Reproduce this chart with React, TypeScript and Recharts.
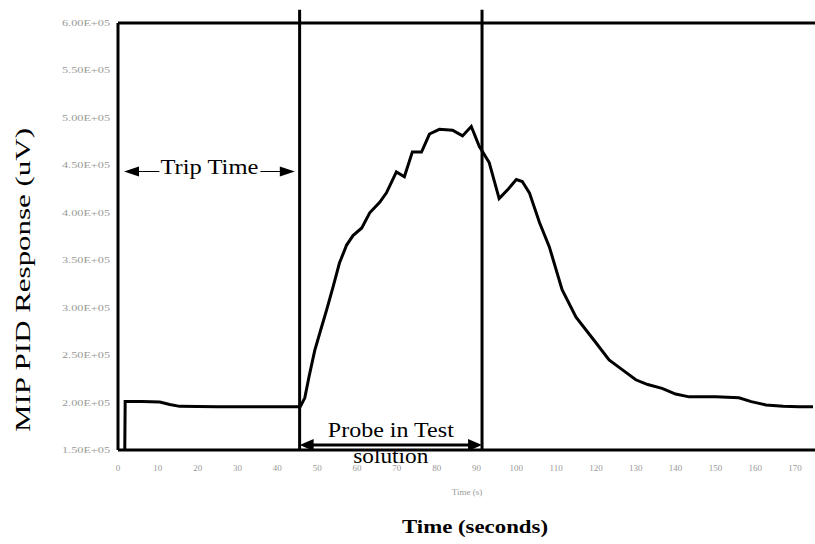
import React from "react"
import { LineChart, Line, XAxis, YAxis, ReferenceLine } from "recharts"

// time (s) and MIP PID response (uV)
const times = [
  1.7, 1.8, 6, 10.5, 13, 15.5, 20, 25, 30, 35, 40, 45.2, 45.8, 46.9, 48, 49.4,
  51, 52.4, 54, 55.6, 57.4, 59, 61.2, 63.2, 65.7, 67.4, 69.9, 71.9, 73.9, 76.2,
  78.2, 80.7, 84, 86.5, 88.7, 90.7, 93.2, 95.7, 98, 100, 101.5, 103.3, 105.8,
  108.3, 111.5, 115, 120, 123.3, 126.5, 130, 133, 136.6, 140, 143.4, 147, 150.1,
  155.9, 159, 162.7, 167, 171, 174.5,
]
const responses = [
  150000, 201000, 201000, 200500, 198000, 196000, 195800, 195500, 195600, 195500,
  195500, 195500, 196000, 205000, 228000, 255000, 278000, 298000, 322000, 347000,
  366000, 376000, 384000, 400000, 411000, 421000, 443000, 438000, 464000, 464000,
  483000, 488000, 487000, 481000, 491000, 470000, 453000, 415000, 425000, 435000,
  433000, 421000, 390000, 364000, 319000, 290000, 263000, 245000, 235000, 224000,
  219000, 215000, 209000, 206000, 206000, 206000, 205000, 201000, 197500, 196000,
  195500, 195500,
]
const yTicks = [150000, 200000, 250000, 300000, 350000, 400000, 450000, 500000, 550000, 600000]
const xTicks = [0, 10, 20, 30, 40, 50, 60, 70, 80, 90, 100, 110, 120, 130, 140, 150, 160, 170]

// markers: probe put in / pulled out
const probeIn = 45.6
const probeOut = 91.4

const data = times.map((t, i) => ({ t, v: responses[i] }))

const serif = "'Liberation Serif', 'Times New Roman', serif"

const fmtY = (v: number) => `${(v / 100000).toFixed(2)}E+05`

const YTick = ({ x, y, payload }: any) => (
  <text x={x} y={y} dy={3} textAnchor="end" fontSize={9} fill="#999" fontFamily={serif}
    textLength={48} lengthAdjust="spacingAndGlyphs">
    {fmtY(payload.value)}
  </text>
)

const XTick = ({ x, y, payload }: any) => (
  <text x={x} y={y + 13} textAnchor="middle" fontSize={9} fill="#999" fontFamily={serif}>
    {payload.value}
  </text>
)

const YLabel = () => (
  <text transform="translate(30,280) rotate(-90)" textAnchor="middle" fontSize={22}
    fontFamily={serif} fill="#000" textLength={304} lengthAdjust="spacingAndGlyphs">
    MIP PID Response (uV)
  </text>
)

const XLabel = () => (
  <g>
    <text x={467} y={495} textAnchor="middle" fontSize={9} fill="#999" fontFamily={serif}>Time (s)</text>
    <text x={475} y={533} textAnchor="middle" fontSize={19} fontWeight="bold" fill="#000"
      fontFamily={serif} textLength={146} lengthAdjust="spacingAndGlyphs">
      Time (seconds)
    </text>
  </g>
)

const head = (x: number, y: number, dir: number, len = 15, h = 5) =>
  `${x},${y} ${x + dir * len},${y - h} ${x + dir * len},${y + h}`

const TripArrow = (p: any) => {
  const { x1, y1, x2 } = p
  const y = y1
  const mid = (x1 + x2) / 2
  return (
    <g>
      <line x1={x1 + 12} y1={y} x2={mid - 50} y2={y} stroke="#000" strokeWidth={1} />
      <line x1={mid + 51} y1={y} x2={x2 - 12} y2={y} stroke="#000" strokeWidth={1} />
      <polygon points={head(x1, y, 1)} fill="#000" />
      <polygon points={head(x2, y, -1)} fill="#000" />
      <text x={mid} y={y + 2} textAnchor="middle" fontSize={22} fontFamily={serif} fill="#000"
        textLength={98} lengthAdjust="spacingAndGlyphs">
        Trip Time
      </text>
    </g>
  )
}

const ProbeArrow = (p: any) => {
  const { x1, y1, x2 } = p
  const y = y1
  const mid = (x1 + x2) / 2
  return (
    <g>
      <line x1={x1 + 10} y1={y} x2={x2 - 10} y2={y} stroke="#000" strokeWidth={3} />
      <polygon points={head(x1, y, 1, 14, 6)} fill="#000" />
      <polygon points={head(x2, y, -1, 14, 6)} fill="#000" />
      <text x={mid} y={y - 8} textAnchor="middle" fontSize={22} fontFamily={serif} fill="#000"
        textLength={126} lengthAdjust="spacingAndGlyphs">
        Probe in Test
      </text>
      <text x={mid} y={y + 18} textAnchor="middle" fontSize={22} fontFamily={serif} fill="#000"
        textLength={75} lengthAdjust="spacingAndGlyphs">
        solution
      </text>
    </g>
  )
}

export default function App() {
  return (
    <div style={{ position: "absolute", left: 0, top: 0, width: 815, height: 544, background: "#fff", overflow: "hidden" }}>
      <LineChart width={815} height={544} data={data} margin={{ top: 23, right: 0, left: 0, bottom: 0 }}>
        <XAxis
          dataKey="t"
          type="number"
          domain={[0, 175]}
          ticks={xTicks}
          tick={<XTick />}
          tickLine={false}
          axisLine={{ stroke: "#000", strokeWidth: 3 }}
          height={94}
          label={<XLabel />}
        />
        <YAxis
          type="number"
          domain={[150000, 600000]}
          ticks={yTicks}
          tick={<YTick />}
          tickLine={false}
          axisLine={{ stroke: "#000", strokeWidth: 3 }}
          width={118}
          allowDataOverflow
          label={<YLabel />}
        />
        <ReferenceLine y={600000} stroke="#000" strokeWidth={3} />
        <ReferenceLine
          segment={[{ x: probeIn, y: 150000 }, { x: probeIn, y: 614000 }]}
          stroke="#000"
          strokeWidth={3}
          ifOverflow="visible"
        />
        <ReferenceLine
          segment={[{ x: probeOut, y: 150000 }, { x: probeOut, y: 614000 }]}
          stroke="#000"
          strokeWidth={3}
          ifOverflow="visible"
        />
        <ReferenceLine
          segment={[{ x: 1.5, y: 443500 }, { x: 44.4, y: 443500 }]}
          shape={<TripArrow />}
          ifOverflow="visible"
        />
        <ReferenceLine
          segment={[{ x: probeIn, y: 155300 }, { x: probeOut, y: 155300 }]}
          shape={<ProbeArrow />}
          ifOverflow="visible"
        />
        <Line
          type="linear"
          dataKey="v"
          stroke="#000"
          strokeWidth={3}
          dot={false}
          isAnimationActive={false}
        />
      </LineChart>
    </div>
  )
}
